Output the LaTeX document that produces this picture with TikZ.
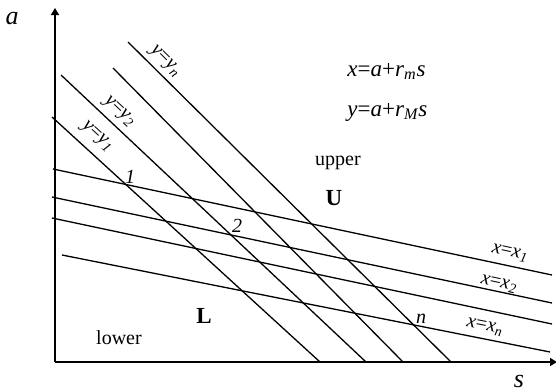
\documentclass[tikz,border=0pt]{standalone}
\usepackage{fontspec}
\setmainfont{Liberation Serif}
\usetikzlibrary{arrows.meta}
\newcommand\lsub[1]{\textsubscript{\itshape #1}}
\begin{document}
\begin{tikzpicture}[x=0.5pt,y=-0.5pt,
  axisline/.style={line width=0.75pt,-{Triangle[length=3.5pt,width=4pt]}},
  ln/.style={line width=0.65pt},
  lbl/.style={font=\fontsize{10}{12}\selectfont,inner sep=0pt},
  eqn/.style={font=\fontsize{11.5}{13}\selectfont,inner sep=0pt,anchor=base west},
  axlbl/.style={font=\fontsize{13}{15}\selectfont\itshape,inner sep=0pt,anchor=base},
  region/.style={font=\fontsize{11.5}{13}\selectfont\bfseries,inner sep=0pt,anchor=base},
  word/.style={font=\fontsize{10}{12}\selectfont,inner sep=0pt,anchor=base},
  num/.style={font=\fontsize{10}{12}\selectfont\itshape,inner sep=0pt,anchor=base}]
\useasboundingbox (0,0) rectangle (556,391);
% axes
\coordinate (O) at (55,362);
\coordinate (atip) at (55,8);
\coordinate (stip) at (557,362);
\draw[axisline] (O) -- (atip);
\draw[axisline] (O) -- (stip);
\node[axlbl] (alab) at (12,25) {a};
\node[axlbl] (slab) at (519,387) {s};
% steep lines y = y_i
\coordinate (y1a) at (52,117);  \coordinate (y1b) at (320,362);
\coordinate (y2a) at (61,75);   \coordinate (y2b) at (366,362);
\coordinate (y3a) at (113,68);  \coordinate (y3b) at (403,362);
\coordinate (yna) at (128,42);  \coordinate (ynb) at (451,362);
\draw[ln] (y1a) -- (y1b);
\draw[ln] (y2a) -- (y2b);
\draw[ln] (y3a) -- (y3b);
\draw[ln] (yna) -- (ynb);
% shallow lines x = x_i
\coordinate (x1a) at (53,169);  \coordinate (x1b) at (552,275);
\coordinate (x2a) at (52,197);  \coordinate (x2b) at (552,303);
\coordinate (x3a) at (52,218);  \coordinate (x3b) at (552,324);
\coordinate (xna) at (62,255);  \coordinate (xnb) at (550,352);
\draw[ln] (x1a) -- (x1b);
\draw[ln] (x2a) -- (x2b);
\draw[ln] (x3a) -- (x3b);
\draw[ln] (xna) -- (xnb);
% line labels
\node[lbl,rotate=-42.4] (ly1) at (97,137) {\textit{y}=\textit{y}\lsub{1}};
\node[lbl,rotate=-43.3] (ly2) at (119,112) {\textit{y}=\textit{y}\lsub{2}};
\node[lbl,rotate=-44.7] (lyn) at (165,62) {\textit{y}=\textit{y}\lsub{n}};
\node[lbl,rotate=-12] (lx1) at (510,253) {\textit{x}=\textit{x}\lsub{1}};
\node[lbl,rotate=-12] (lx2) at (499,284) {\textit{x}=\textit{x}\lsub{2}};
\node[lbl,rotate=-11.2] (lxn) at (485,327) {\textit{x}=\textit{x}\lsub{n}};
% intersection labels
\node[num] (p1) at (130,183) {1};
\node[num] (p2) at (237,232) {2};
\node[num] (pn) at (421,323) {n};
% equations
\node[eqn] (eq1) at (347,76) {\textit{x}=\textit{a}+\textit{r}\lsub{m}\textit{s}};
\node[eqn] (eq2) at (347,116) {\textit{y}=\textit{a}+\textit{r}\lsub{M}\textit{s}};
% regions
\node[word] (up) at (338,165) {upper};
\node[region] (U) at (334,205) {U};
\node[region] (L) at (204,323) {L};
\node[word] (low) at (119,344) {lower};
\end{tikzpicture}
\end{document}
